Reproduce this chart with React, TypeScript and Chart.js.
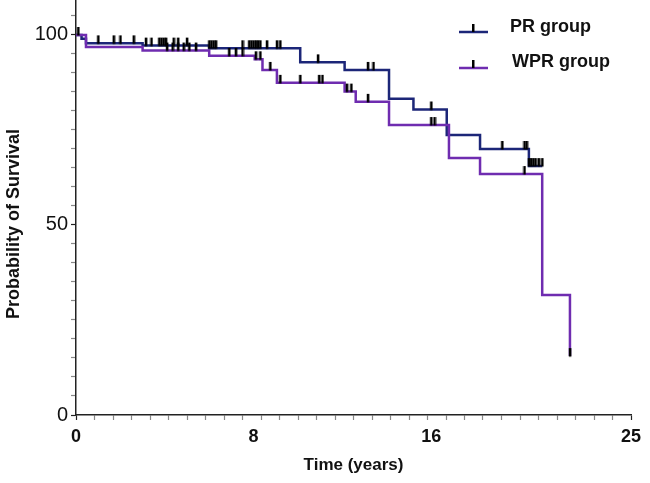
import React, { useEffect, useRef } from 'react';
import { Chart, registerables } from 'chart.js';

Chart.register(...registerables);

// ---- data ----
const SERIES_NAMES = ['PR group', 'WPR group'];
const X_TITLE = 'Time (years)';
const Y_TITLE = 'Probability of Survival';

const PR_TIMES = [0, 0.25, 0.45, 3.0, 6.0, 10.1, 12.1, 14.1, 15.2, 16.7, 18.2, 20.4, 21.0];
const PR_SURVIVAL = [100, 99, 97.8, 97.2, 96.5, 92.8, 90.8, 83.2, 80.4, 73.7, 70.0, 65.5, 65.5];

const WPR_TIMES = [0, 0.45, 3.0, 6.0, 8.05, 8.4, 9.05, 12.1, 12.6, 14.1, 16.8, 18.2, 21.0, 22.25];
const WPR_SURVIVAL = [100, 96.8, 95.9, 94.5, 93.6, 90.8, 87.4, 85.1, 82.4, 76.3, 67.6, 63.4, 31.6, 15.5];

const PR_CENSORED = [0.1, 1.0, 1.7, 2.0, 2.6, 3.15, 3.4, 3.75, 3.85, 3.95, 4.05, 4.4, 4.6, 5.0, 6.0, 6.1, 6.2, 6.3,
  7.5, 7.8, 7.9, 8.0, 8.1, 8.2, 8.3, 8.6, 9.05, 9.2, 10.9, 13.15, 13.4, 16.0, 19.2, 20.2, 20.3, 20.4,
  20.5, 20.6, 20.7, 20.85, 21.0];
const WPR_CENSORED = [4.1, 4.35, 4.6, 4.85, 5.1, 5.4, 6.9, 7.2, 7.5, 8.1, 8.3, 8.75, 9.2, 10.1, 10.95, 11.1,
  12.2, 12.4, 13.15, 16.0, 16.15, 20.2, 22.25];

const X_TICK_LABELS = [0, 8, 16, 25];
const Y_TICK_LABELS = [0, 50, 100];

// ---- styling ----
const PR_COLOR = '#1c2678';
const WPR_COLOR = '#6f2cb0';
const FONT = "'Liberation Sans', Arial, Helvetica, sans-serif";

function survivalAt(times: number[], surv: number[], t: number) {
  let v = surv[0];
  for (let i = 0; i < times.length; i++) {
    if (times[i] <= t + 1e-9) v = surv[i];
  }
  return v;
}

function makeTickImage() {
  const c = document.createElement('canvas');
  c.width = 4;
  c.height = 18;
  const g = c.getContext('2d')!;
  g.fillStyle = '#000';
  g.fillRect(0.8, 1, 2.6, 8.5);
  return c;
}

const legendPlugin = {
  id: 'kmLegend',
  afterDraw(chart: any) {
    const ctx = chart.ctx;
    const items = [
      { name: SERIES_NAMES[0], color: PR_COLOR, ly: 32, ty: 27, tx: 510 },
      { name: SERIES_NAMES[1], color: WPR_COLOR, ly: 68, ty: 62, tx: 512 },
    ];
    ctx.save();
    items.forEach((it) => {
      ctx.strokeStyle = it.color;
      ctx.lineWidth = 2.5;
      ctx.beginPath();
      ctx.moveTo(459, it.ly);
      ctx.lineTo(488, it.ly);
      ctx.stroke();
      ctx.fillStyle = '#000';
      ctx.fillRect(472, it.ly - 8, 2.5, 8);
      ctx.font = `bold 18px ${FONT}`;
      ctx.fillStyle = '#111';
      ctx.textAlign = 'left';
      ctx.textBaseline = 'middle';
      ctx.fillText(it.name, it.tx, it.ty);
    });
    // y axis title
    ctx.translate(14, 224);
    ctx.rotate(-Math.PI / 2);
    ctx.font = `bold 18px ${FONT}`;
    ctx.textAlign = 'center';
    ctx.textBaseline = 'middle';
    ctx.fillStyle = '#111';
    ctx.fillText(Y_TITLE, 0, 0);
    ctx.restore();
  },
};

export default function App() {
  const ref = useRef<HTMLCanvasElement>(null);

  useEffect(() => {
    if (!ref.current) return;
    const tickImg = makeTickImage();

    const xMinor: number[] = [];
    for (let i = 0; i <= 30; i++) xMinor.push((i * 25) / 30);
    const yMinor: number[] = [];
    for (let v = 0; v <= 105; v += 5) yMinor.push(v);

    const chart = new Chart(ref.current, {
      type: 'line',
      data: {
        datasets: [
          {
            label: SERIES_NAMES[0] + ' censored',
            data: PR_CENSORED.map((t) => ({ x: t, y: survivalAt(PR_TIMES, PR_SURVIVAL, t) })),
            showLine: false,
            pointStyle: tickImg as any,
            pointRadius: 4,
            order: 0,
          },
          {
            label: SERIES_NAMES[1] + ' censored',
            data: WPR_CENSORED.map((t) => ({ x: t, y: survivalAt(WPR_TIMES, WPR_SURVIVAL, t) })),
            showLine: false,
            pointStyle: tickImg as any,
            pointRadius: 4,
            order: 0,
          },
          {
            label: SERIES_NAMES[0],
            data: PR_TIMES.map((t, i) => ({ x: t, y: PR_SURVIVAL[i] })),
            stepped: 'before',
            borderColor: PR_COLOR,
            borderWidth: 2.5,
            pointRadius: 0,
            fill: false,
            order: 2,
          },
          {
            label: SERIES_NAMES[1],
            data: WPR_TIMES.map((t, i) => ({ x: t, y: WPR_SURVIVAL[i] })),
            stepped: 'before',
            borderColor: WPR_COLOR,
            borderWidth: 2.5,
            pointRadius: 0,
            fill: false,
            order: 1,
          },
        ],
      },
      options: {
        animation: false,
        responsive: false,
        events: [],
        layout: { padding: { left: 0, right: 19, top: 0, bottom: 0 }, autoPadding: false },
        plugins: { legend: { display: false }, tooltip: { enabled: false } },
        scales: {
          x: {
            type: 'linear',
            min: 0,
            max: 25,
            afterBuildTicks: (s: any) => {
              const vals = Array.from(new Set([...xMinor, ...X_TICK_LABELS])).sort((a, b) => a - b);
              s.ticks = vals.map((v) => ({ value: v }));
            },
            afterFit: (s: any) => {
              s.height = 68;
              s.paddingLeft = 0;
              s.paddingRight = 0;
            },
            ticks: {
              autoSkip: false,
              maxRotation: 0,
              padding: 6,
              color: '#111',
              font: { family: FONT, size: 18, weight: 'bold' },
              callback: (v: any) => (X_TICK_LABELS.includes(Number(v)) ? String(v) : ''),
            },
            grid: {
              drawOnChartArea: false,
              drawTicks: true,
              tickLength: 5,
              tickColor: (ctx: any) => {
                const v = ctx.tick ? ctx.tick.value : 0;
                if (v === 8 || v === 16) return 'rgba(0,0,0,0)';
                if (v === 0 || v === 25) return '#222';
                return '#888';
              },
              tickWidth: 1.2,
            },
            border: { display: true, color: '#222', width: 1.5 },
            title: {
              display: true,
              text: X_TITLE,
              color: '#111',
              font: { family: FONT, size: 17, weight: 'bold' },
              padding: { top: 0, bottom: 7 },
            },
          },
          y: {
            type: 'linear',
            min: 0,
            max: 109.2,
            afterBuildTicks: (s: any) => {
              s.ticks = yMinor.map((v) => ({ value: v }));
            },
            afterFit: (s: any) => {
              s.width = 76;
              s.paddingTop = 0;
              s.paddingBottom = 0;
            },
            ticks: {
              autoSkip: false,
              padding: 3,
              color: '#111',
              font: { family: FONT, size: 20 },
              callback: (v: any) => (Y_TICK_LABELS.includes(Number(v)) ? String(v) : ''),
            },
            grid: {
              drawOnChartArea: false,
              drawTicks: true,
              tickLength: 5,
              tickColor: (ctx: any) => {
                const v = ctx.tick ? ctx.tick.value : 0;
                return Y_TICK_LABELS.includes(v) ? '#222' : '#888';
              },
              tickWidth: 1.2,
            },
            border: { display: true, color: '#222', width: 1.5 },
          },
        },
      },
      plugins: [legendPlugin],
    } as any);

    return () => chart.destroy();
  }, []);

  return (
    <div style={{ position: 'absolute', left: 0, top: 0, width: 650, height: 483, background: '#fff' }}>
      <canvas ref={ref} width={650} height={483} style={{ display: 'block' }} />
    </div>
  );
}
